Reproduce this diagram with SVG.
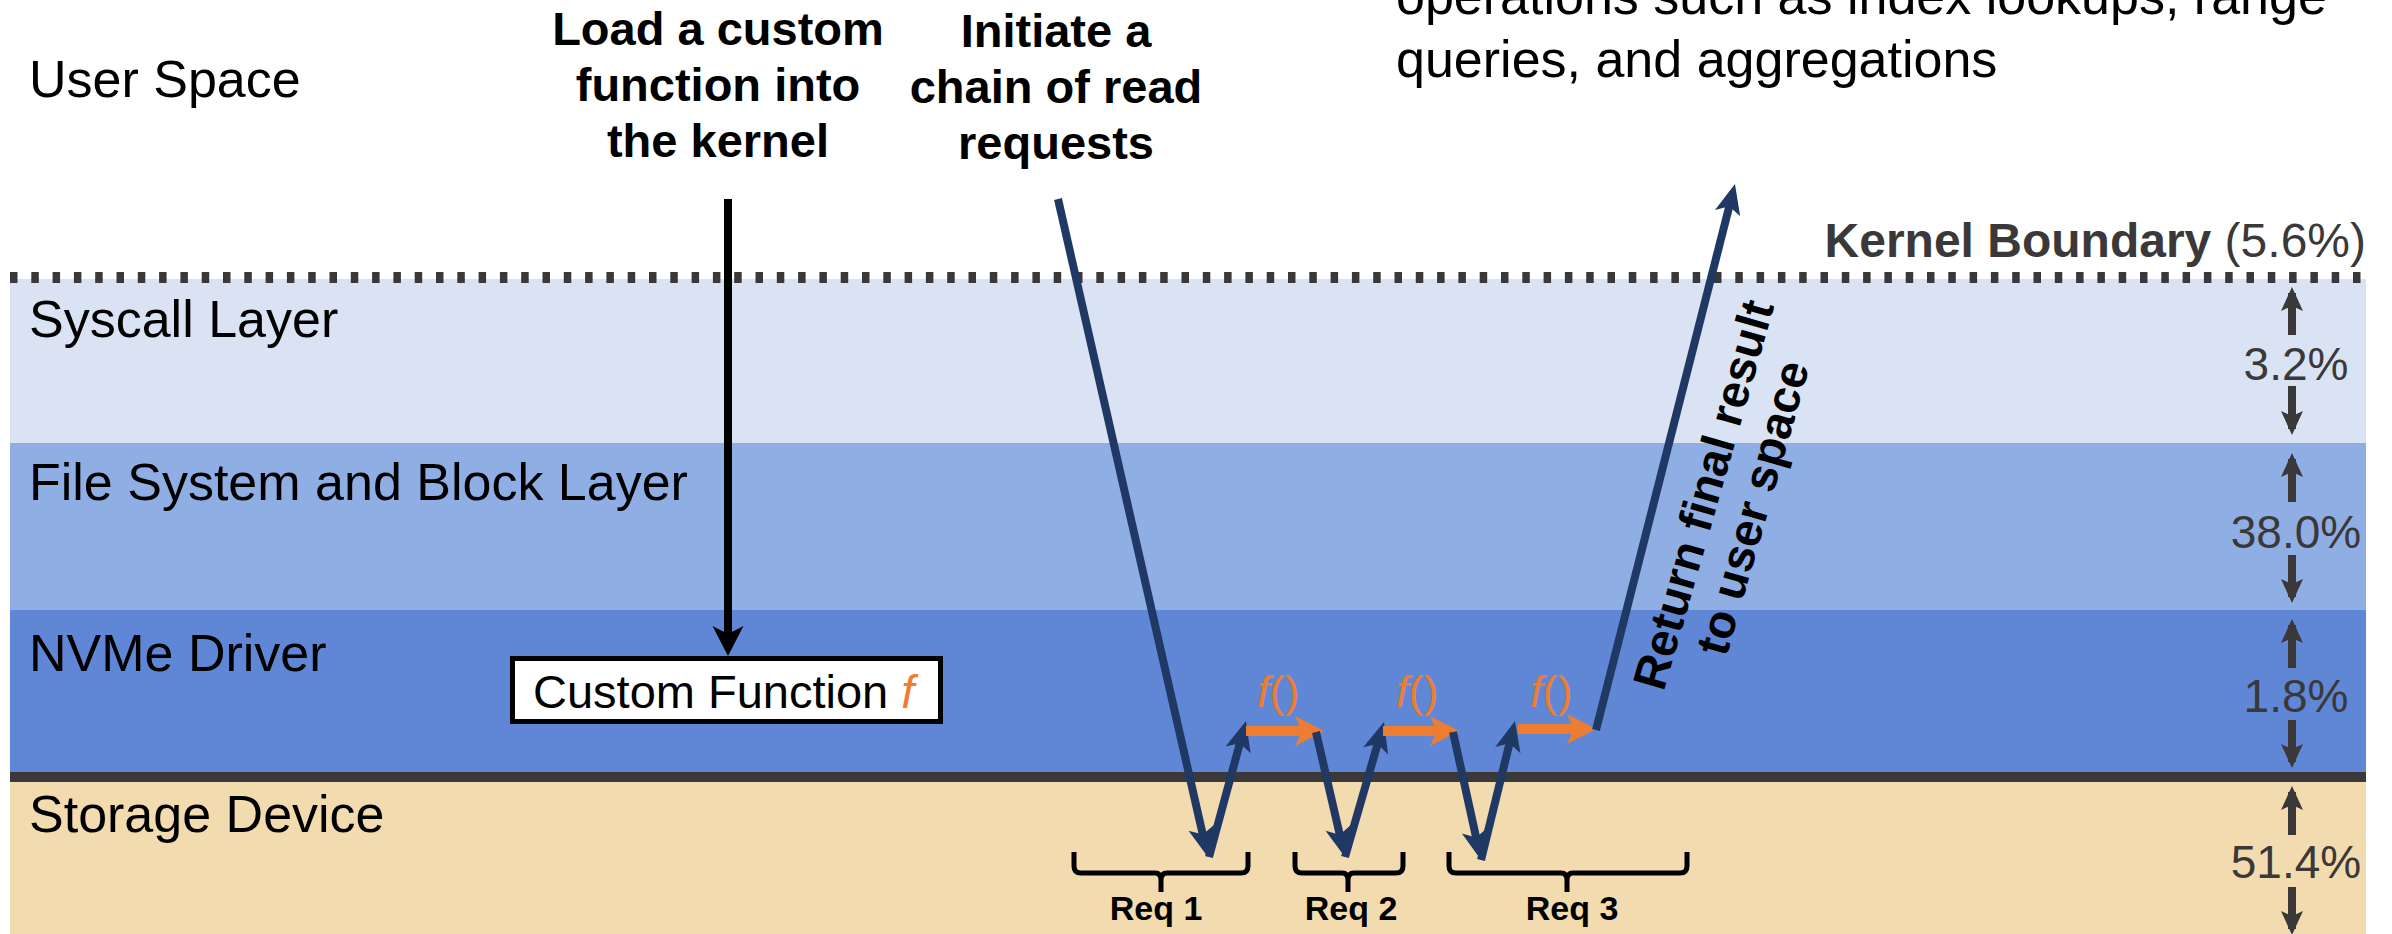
<svg xmlns="http://www.w3.org/2000/svg" width="2392" height="934" viewBox="0 0 2392 934">
  <style>
    .lbl { font-family: "Liberation Sans", Arial, sans-serif; font-size: 52px; fill: #000; }
    .bold { font-family: "Liberation Sans", Arial, sans-serif; font-weight: bold; font-size: 47px; fill: #000; text-anchor: middle; }
    .pct { font-family: "Liberation Sans", Arial, sans-serif; font-size: 46px; fill: #3a3838; text-anchor: middle; }
    .req { font-family: "Liberation Sans", Arial, sans-serif; font-weight: bold; font-size: 34px; fill: #000; text-anchor: middle; }
    .fn { font-family: "Liberation Sans", Arial, sans-serif; font-size: 45px; fill: #ed7d31; }
    .navy { stroke: #203864; stroke-width: 8; fill: none; }
    .orange { stroke: #ed7d31; stroke-width: 10; fill: none; }
    .brace { stroke: #000; stroke-width: 5; fill: none; stroke-linejoin: round; }
    .dim { stroke: #3a3838; stroke-width: 8; fill: none; }
  </style>
  <defs>
    <marker id="navyHead" markerUnits="userSpaceOnUse" viewBox="-22 -15 34 30" markerWidth="34" markerHeight="30" refX="0" refY="0" orient="auto">
      <path d="M10,0 L-20,-13 L-13,0 L-20,13 Z" fill="#203864"/>
    </marker>
    <marker id="orangeHead" markerUnits="userSpaceOnUse" viewBox="-22 -16 32 32" markerWidth="32" markerHeight="32" refX="0" refY="0" orient="auto">
      <path d="M8,0 L-21,-15 L-14,0 L-21,15 Z" fill="#ed7d31"/>
    </marker>
    <marker id="blackHead" markerUnits="userSpaceOnUse" viewBox="-24 -17 34 34" markerWidth="34" markerHeight="34" refX="0" refY="0" orient="auto">
      <path d="M8,0 L-22,-15.5 L-14,0 L-22,15.5 Z" fill="#000"/>
    </marker>
    <marker id="dimHead" markerUnits="userSpaceOnUse" viewBox="-20 -12 28 24" markerWidth="28" markerHeight="24" refX="0" refY="0" orient="auto">
      <path d="M6,0 L-18,-11 L-13,0 L-18,11 Z" fill="#3a3838"/>
    </marker>
  </defs>

  <!-- layer bands -->
  <g id="band-syscall">
    <rect x="10" y="279" width="2356" height="164" fill="#dae3f3"/>
    <text class="lbl" x="29" y="337">Syscall Layer</text>
  </g>
  <g id="band-fs">
    <rect x="10" y="443" width="2356" height="167" fill="#8faee3"/>
    <text class="lbl" x="29" y="500">File System and Block Layer</text>
  </g>
  <g id="band-nvme">
    <rect x="10" y="610" width="2356" height="167" fill="#5f87d5"/>
    <text class="lbl" x="29" y="671">NVMe Driver</text>
  </g>
  <g id="band-storage">
    <rect x="10" y="777" width="2356" height="157" fill="#f3dbb0"/>
    <text class="lbl" x="29" y="832">Storage Device</text>
  </g>
  <line x1="10" y1="777" x2="2366" y2="777" stroke="#3a3838" stroke-width="10"/>

  <!-- kernel boundary -->
  <g id="kernel-boundary">
    <line x1="10" y1="277.5" x2="2366" y2="277.5" stroke="#3a3838" stroke-width="11" stroke-dasharray="7.5 13.8"/>
    <text x="2366" y="257" font-family="Liberation Sans, Arial, sans-serif" font-size="48" fill="#3a3838" text-anchor="end"><tspan font-weight="bold">Kernel Boundary</tspan> (5.6%)</text>
  </g>

  <!-- user space texts -->
  <g id="user-space">
    <text class="lbl" x="29" y="97">User Space</text>
  </g>
  <g id="note-load">
    <text class="bold" x="718" y="45">Load a custom</text>
    <text class="bold" x="718" y="101">function into</text>
    <text class="bold" x="718" y="157">the kernel</text>
  </g>
  <g id="note-initiate">
    <text class="bold" x="1056" y="47">Initiate a</text>
    <text class="bold" x="1056" y="103">chain of read</text>
    <text class="bold" x="1056" y="159">requests</text>
  </g>
  <g id="note-operations">
    <text class="lbl" x="1396" y="14">operations such as index lookups, range</text>
    <text class="lbl" x="1396" y="77">queries, and aggregations</text>
  </g>

  <!-- custom function box -->
  <g id="custom-function">
    <rect x="512.5" y="658.5" width="428" height="63" fill="#fff" stroke="#000" stroke-width="5"/>
    <text x="533" y="708" font-family="Liberation Sans, Arial, sans-serif" font-size="47" fill="#000">Custom Function <tspan font-style="italic" fill="#ed7d31">f</tspan></text>
  </g>

  <!-- f() labels -->
  <g id="fn-1"><text class="fn" x="1257" y="707"><tspan font-style="italic">f</tspan>()</text></g>
  <g id="fn-2"><text class="fn" x="1396" y="707"><tspan font-style="italic">f</tspan>()</text></g>
  <g id="fn-3"><text class="fn" x="1530" y="707"><tspan font-style="italic">f</tspan>()</text></g>

  <!-- request braces -->
  <g id="req-1">
    <path class="brace" d="M1074,852 V866 Q1074,873 1081,873 H1155 Q1161,873 1161,880 V892 M1161,880 Q1161,873 1167,873 H1241 Q1248,873 1248,866 V852"/>
    <text class="req" x="1156" y="920">Req 1</text>
  </g>
  <g id="req-2">
    <path class="brace" d="M1295,852 V866 Q1295,873 1302,873 H1342 Q1348,873 1348,880 V892 M1348,880 Q1348,873 1354,873 H1396 Q1403,873 1403,866 V852"/>
    <text class="req" x="1351" y="920">Req 2</text>
  </g>
  <g id="req-3">
    <path class="brace" d="M1449,852 V866 Q1449,873 1456,873 H1561 Q1567,873 1567,880 V892 M1567,880 Q1567,873 1573,873 H1680 Q1687,873 1687,866 V852"/>
    <text class="req" x="1572" y="920">Req 3</text>
  </g>

  <!-- return label -->
  <g id="return-label">
    <text class="bold" transform="translate(1719,499) rotate(-74)">Return final result</text>
    <text class="bold" transform="translate(1768,512) rotate(-74)">to user space</text>
  </g>

  <!-- percentage indicators -->
  <g id="pct-syscall">
    <line class="dim" x1="2292" y1="335" x2="2292" y2="293" marker-end="url(#dimHead)"/>
    <text class="pct" x="2296" y="380">3.2%</text>
    <line class="dim" x1="2292" y1="386" x2="2292" y2="429" marker-end="url(#dimHead)"/>
  </g>
  <g id="pct-fs">
    <line class="dim" x1="2292" y1="502" x2="2292" y2="459" marker-end="url(#dimHead)"/>
    <text class="pct" x="2296" y="548">38.0%</text>
    <line class="dim" x1="2292" y1="555" x2="2292" y2="597" marker-end="url(#dimHead)"/>
  </g>
  <g id="pct-nvme">
    <line class="dim" x1="2292" y1="668" x2="2292" y2="625" marker-end="url(#dimHead)"/>
    <text class="pct" x="2296" y="712">1.8%</text>
    <line class="dim" x1="2292" y1="720" x2="2292" y2="762" marker-end="url(#dimHead)"/>
  </g>
  <g id="pct-storage">
    <line class="dim" x1="2292" y1="835" x2="2292" y2="792" marker-end="url(#dimHead)"/>
    <text class="pct" x="2296" y="878">51.4%</text>
    <line class="dim" x1="2292" y1="887" x2="2292" y2="929" marker-end="url(#dimHead)"/>
  </g>

  <!-- connectors -->
  <g id="connectors">
    <line x1="728" y1="199" x2="728" y2="648" stroke="#000" stroke-width="8" marker-end="url(#blackHead)"/>
    <line class="navy" x1="1058" y1="199" x2="1205.7" y2="847.3" marker-end="url(#navyHead)"/>
    <line class="navy" x1="1209" y1="857" x2="1243.3" y2="730.6" marker-end="url(#navyHead)"/>
    <line class="orange" x1="1246" y1="731" x2="1316" y2="731" marker-end="url(#orangeHead)"/>
    <line class="navy" x1="1316" y1="732" x2="1342.7" y2="847.3" marker-end="url(#navyHead)"/>
    <line class="navy" x1="1345" y1="857" x2="1381.2" y2="731.6" marker-end="url(#navyHead)"/>
    <line class="orange" x1="1383" y1="731" x2="1451" y2="731" marker-end="url(#orangeHead)"/>
    <line class="navy" x1="1453" y1="732" x2="1478.9" y2="850.2" marker-end="url(#navyHead)"/>
    <line class="navy" x1="1481" y1="860" x2="1512.6" y2="730.7" marker-end="url(#navyHead)"/>
    <line class="orange" x1="1518" y1="729" x2="1588" y2="729" marker-end="url(#orangeHead)"/>
    <line class="navy" x1="1596" y1="730" x2="1732.5" y2="193.7" marker-end="url(#navyHead)"/>
  </g>
</svg>
